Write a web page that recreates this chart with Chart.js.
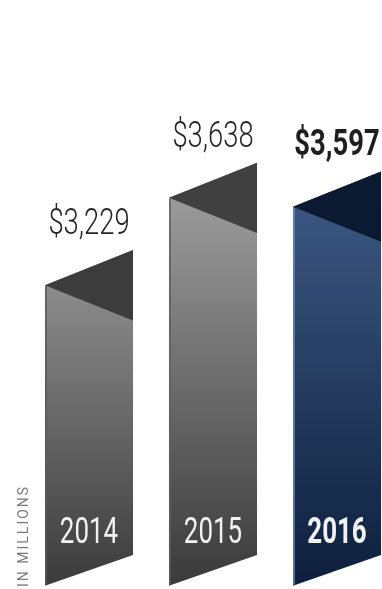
<!DOCTYPE html>
<html>
<head>
<meta charset="utf-8">
<script src="https://cdn.jsdelivr.net/npm/chart.js@4.4.1/dist/chart.umd.min.js"></script>
<style>
  html, body { margin: 0; padding: 0; background: #fff; overflow: hidden; }
  #revenueChart { display: block; }
</style>
</head>
<body>
<canvas id="revenueChart" width="400" height="589"></canvas>
<script>
// revenue by year, in millions
const years = ['2014', '2015', '2016'];
const revenue = [3229, 3638, 3597];
const valueLabels = ['$3,229', '$3,638', '$3,597'];

// one colour scheme per bar: body gradient top/bottom, folded top, left edge
const barStyles = [
  { top: '#959595', bottom: '#3b3b3b', fold: '#3c3c3c', edge: '#5a5a5a', bold: false },
  { top: '#a3a3a3', bottom: '#3a3a3a', fold: '#404040', edge: '#5e5e5e', bold: false },
  { top: '#3e5b86', bottom: '#0d1f3c', fold: '#0c1a31', edge: '#6f8ab0', bold: true }
];

// draws text squeezed horizontally to get a condensed look
function condensedText(ctx, text, x, y, font, color, sx) {
  ctx.save();
  ctx.translate(x, y);
  ctx.scale(sx, 1);
  ctx.font = font;
  ctx.fillStyle = color;
  ctx.textAlign = 'center';
  ctx.textBaseline = 'alphabetic';
  ctx.fillText(text, 0, 0);
  ctx.restore();
}

// replaces the plain rectangles with slanted, folded-top bars
const foldedBars = {
  id: 'foldedBars',
  beforeDatasetDraw(chart) {
    const ctx = chart.ctx;
    const yScale = chart.scales.y;
    const base = yScale.getPixelForValue(yScale.min);
    const bars = chart.getDatasetMeta(0).data;
    bars.forEach((bar, i) => {
      const s = barStyles[i];
      const w = bar.width;
      const left = bar.x - w / 2;
      const right = bar.x + w / 2;
      const topLeft = bar.y + w * 0.40;
      const foldEnd = bar.y + w * 0.80;
      const bottomLeft = base + w * 0.35;

      // bar body
      const grad = ctx.createLinearGradient(0, bar.y, 0, bottomLeft);
      grad.addColorStop(0, s.top);
      grad.addColorStop(1, s.bottom);
      ctx.save();
      ctx.beginPath();
      ctx.moveTo(left, topLeft);
      ctx.lineTo(right, bar.y);
      ctx.lineTo(right, base);
      ctx.lineTo(left, bottomLeft);
      ctx.closePath();
      ctx.fillStyle = grad;
      ctx.fill();

      // folded top
      ctx.beginPath();
      ctx.moveTo(left, topLeft);
      ctx.lineTo(right, bar.y);
      ctx.lineTo(right, foldEnd);
      ctx.closePath();
      ctx.fillStyle = s.fold;
      ctx.fill();

      // thin left edge
      ctx.beginPath();
      ctx.moveTo(left + 1, topLeft + 1);
      ctx.lineTo(left + 1, bottomLeft - 1);
      ctx.lineWidth = 1.5;
      ctx.strokeStyle = s.edge;
      ctx.stroke();
      ctx.restore();

      // value above, year inside the bar
      condensedText(ctx, valueLabels[i], bar.x, bar.y - 16,
        (s.bold ? 'bold' : '300') + ' 37px Roboto', s.bold ? '#1e1e1e' : '#262626', 0.74);
      condensedText(ctx, years[i], bar.x, base - 12,
        (s.bold ? 'bold' : 'normal') + ' 36px Roboto', '#f2f2f2', 0.72);
    });

    // unit note, written upwards
    ctx.save();
    ctx.translate(28, 587);
    ctx.rotate(-Math.PI / 2);
    ctx.font = '14px Roboto';
    ctx.letterSpacing = '2px';
    ctx.fillStyle = '#7a7a7a';
    ctx.textAlign = 'left';
    ctx.textBaseline = 'alphabetic';
    ctx.fillText('IN MILLIONS', 0, 0);
    ctx.restore();
    return false;
  }
};

new Chart(document.getElementById('revenueChart'), {
  type: 'bar',
  data: {
    labels: years,
    datasets: [{
      data: revenue,
      backgroundColor: 'rgba(0,0,0,0)',
      barPercentage: 0.71,
      categoryPercentage: 1
    }]
  },
  options: {
    responsive: false,
    animation: false,
    devicePixelRatio: 1,
    layout: { padding: { left: 27, right: 1, top: 0, bottom: 34 } },
    plugins: { legend: { display: false }, tooltip: { enabled: false } },
    scales: {
      x: { display: false },
      y: { display: false, min: 1800, max: 4400 }
    }
  },
  plugins: [foldedBars]
});
</script>
</body>
</html>
